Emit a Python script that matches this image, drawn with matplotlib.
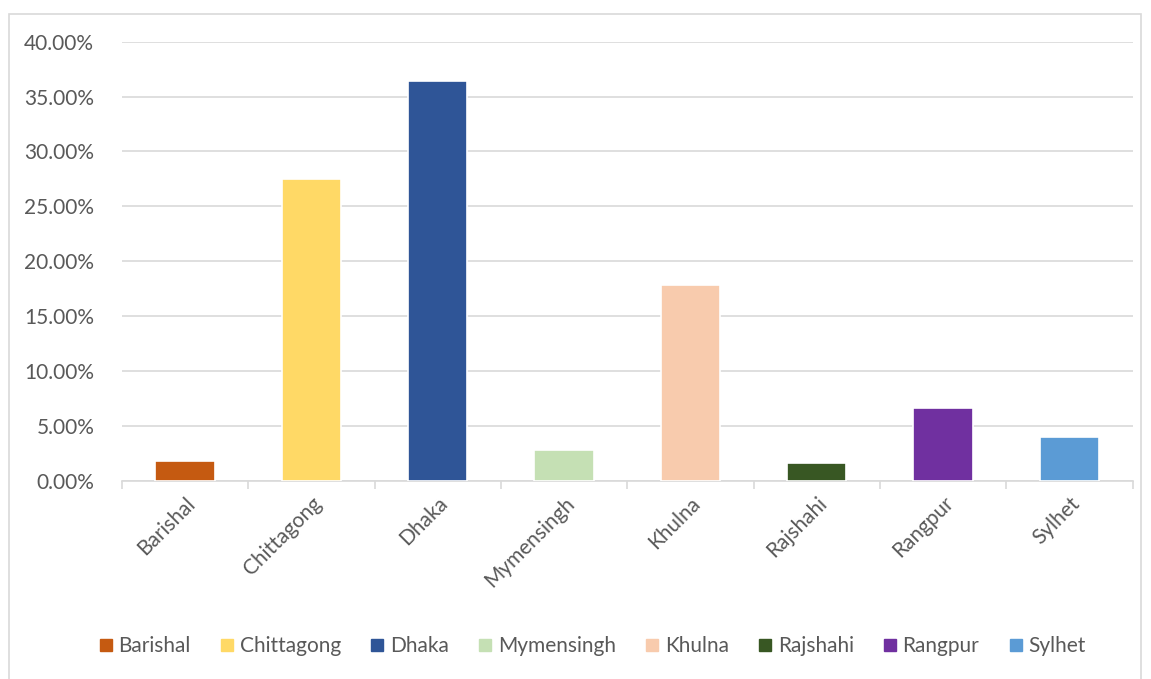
import matplotlib
matplotlib.use("Agg")
import matplotlib.pyplot as plt
import numpy as np
from matplotlib.ticker import PercentFormatter, FixedLocator
from matplotlib.patches import Rectangle
from matplotlib.lines import Line2D

# data
divisions = ["Barishal", "Chittagong", "Dhaka", "Mymensingh", "Khulna", "Rajshahi", "Rangpur", "Sylhet"]
shares = [0.018, 0.2744, 0.3645, 0.0278, 0.178, 0.016, 0.0659, 0.0397]
colors = ["#C55A11", "#FFD966", "#2F5597", "#C5E0B4", "#F8CBAD", "#385723", "#7030A0", "#5B9BD5"]

text_color = "#595959"
grid_color = "#D9D9D9"

plt.rcParams['font.family'] = ['Lato', 'DejaVu Sans']

fig = plt.figure(figsize=(11.51, 6.79), dpi=100)
ax = fig.add_axes([0.106, 0.2923, 0.878, 0.6463])

x = np.arange(len(divisions))
ax.bar(x, shares, width=0.47, color=colors, edgecolor="white", linewidth=1.2, zorder=3)

ax.set_xlim(-0.5, len(divisions) - 0.5)
ax.set_ylim(0, 0.40)
ax.yaxis.set_major_locator(FixedLocator(np.arange(0, 0.401, 0.05)))
ax.yaxis.set_major_formatter(PercentFormatter(xmax=1, decimals=2))
ax.grid(axis="y", color=grid_color, linewidth=1.2, zorder=0)
ax.set_axisbelow(True)

for side in ["top", "right", "left"]:
    ax.spines[side].set_visible(False)
ax.spines["bottom"].set_color(grid_color)
ax.spines["bottom"].set_linewidth(1.2)

ax.set_xticks(x)
ax.set_xticklabels(divisions, rotation=45, ha="right", rotation_mode="anchor")
ax.set_xticks(np.arange(-0.5, len(divisions)), minor=True)
ax.tick_params(axis="x", which="major", length=0, pad=9, labelsize=15, labelcolor=text_color)
ax.tick_params(axis="x", which="minor", length=6, width=1.2, color=grid_color)
ax.tick_params(axis="y", length=0, pad=20, labelsize=15, labelcolor=text_color)

handles = [Line2D([0], [0], marker="s", linestyle="", markersize=8, markerfacecolor=c, markeredgecolor=c)
           for c in colors]
fig.legend(handles, divisions, loc="center", bbox_to_anchor=(0.514, 0.0486), ncol=8,
           frameon=False, fontsize=15, labelcolor=text_color, handletextpad=0.2, columnspacing=1.35,
           handlelength=0.8)

# light chart border
fig.patches.append(Rectangle((0.008, -0.02), 0.983, 1.0, transform=fig.transFigure,
                             fill=False, edgecolor=grid_color, linewidth=1.2))

fig.savefig("out.png", dpi=100)
